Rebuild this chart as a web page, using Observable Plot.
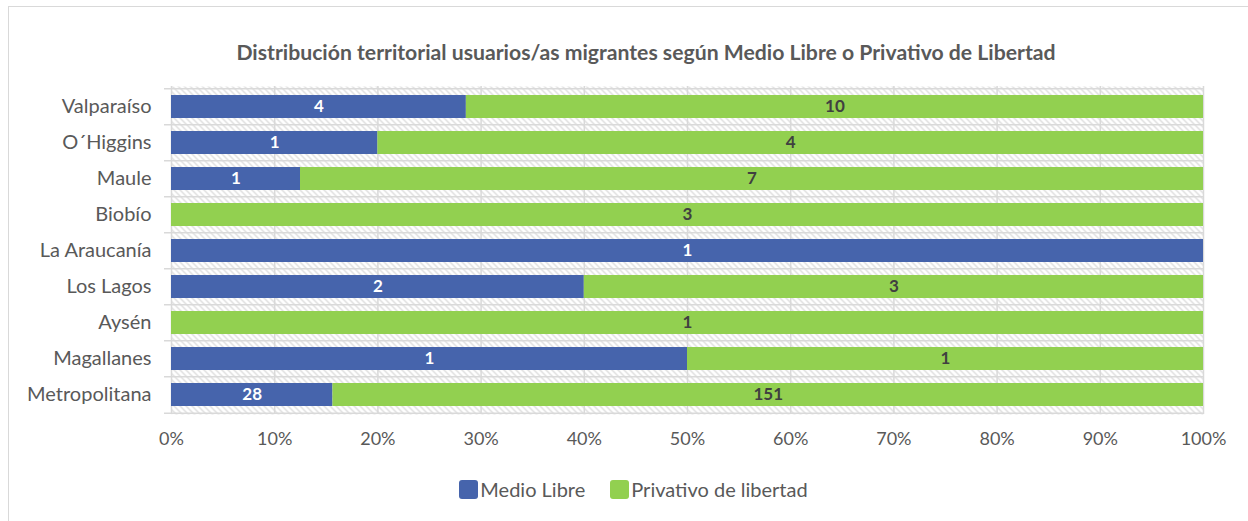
<!DOCTYPE html>
<html><head><meta charset="utf-8">
<script src="https://cdn.jsdelivr.net/npm/d3@7"></script>
<script src="https://cdn.jsdelivr.net/npm/@observablehq/plot@0.6"></script>
<style>
body{margin:0;background:#fff;font-family:Lato,"Open Sans",sans-serif;overflow:hidden;}
#frame{position:absolute;left:8px;top:6px;width:1260px;height:540px;border:1px solid #d9d9d9;box-sizing:border-box;}
#title{position:absolute;left:22px;width:1248px;top:39px;text-align:center;font-weight:bold;font-size:21.2px;color:#595959;line-height:26px;white-space:nowrap;}
#chart{position:absolute;left:0;top:70px;}
#legend{position:absolute;top:478px;left:0;width:1248px;display:flex;justify-content:center;align-items:center;font-size:20px;color:#595959;line-height:22px;padding-left:44px;box-sizing:border-box;}
.sw{display:inline-block;width:19px;height:19px;border-radius:3px;margin-right:2px;}
.item{display:flex;align-items:center;margin-right:25px;}
</style></head>
<body>
<div id="frame"></div>
<div id="title">Distribución territorial usuarios/as migrantes según Medio Libre o Privativo de Libertad</div>
<div id="chart"></div>
<div id="legend"></div>
<script>
const categories = ["Valparaíso","O´Higgins","Maule","Biobío","La Araucanía","Los Lagos","Aysén","Magallanes","Metropolitana"];
const medioLibre = [4,1,1,0,1,2,0,1,28];
const privativo = [10,4,7,3,0,3,1,1,151];
const series = ["Medio Libre","Privativo de libertad"];
const colors = ["#4664ac","#92d050"];
const xTicks = [0,0.1,0.2,0.3,0.4,0.5,0.6,0.7,0.8,0.9,1];

const data = [];
categories.forEach((c,i)=>{
  data.push({region:c, tipo:series[0], value:medioLibre[i]});
  data.push({region:c, tipo:series[1], value:privativo[i]});
});

const W = 1248, H = 390, mT = 16, mB = 46, mL = 171, mR = 45;
const step = (H - mT - mB) / categories.length;
const grid = "#d9d9d9";

const stackOpts = {x:"value", y:"region", z:"tipo", offset:"normalize"};

const chart = Plot.plot({
  width: W, height: H,
  marginTop: mT, marginBottom: mB, marginLeft: mL, marginRight: mR,
  style: {fontFamily: "Lato, 'Open Sans', sans-serif", background: "transparent"},
  x: {domain:[0,1], axis:null},
  y: {domain: categories, paddingInner: 0.37, paddingOuter: 0.185, axis: null},
  color: {domain: series, range: colors},
  marks: [
    Plot.frame({fill: "url(#hatch)", stroke: "none"}),
    Plot.ruleX(xTicks, {stroke: grid, strokeWidth: 1.5}),
    Plot.ruleY(categories, {y: d=>d, dy: -step/2, stroke: grid, strokeWidth: 1.5, insetLeft: -7}),
    Plot.ruleY([categories[categories.length-1]], {y: d=>d, dy: step/2, stroke: grid, strokeWidth: 1.5, insetLeft: -7}),
    Plot.barX(data, Plot.stackX({...stackOpts, fill: "tipo"})),
    Plot.text(data, Plot.filter(d=>d.tipo===series[0] && d.value>0, Plot.stackX({...stackOpts, text: "value", fill: "white", fontWeight: "bold", fontSize: 17}))),
    Plot.text(data, Plot.filter(d=>d.tipo===series[1] && d.value>0, Plot.stackX({...stackOpts, text: "value", fill: "#404040", fontWeight: "bold", fontSize: 17}))),
    Plot.axisX(xTicks, {tickSize: 0, tickPadding: 18, tickFormat: d=>Math.round(d*100)+"%", fontSize: 18, fill: "#595959", label: null}),
    Plot.axisY({tickSize: 0, tickPadding: 20, fontSize: 20, fill: "#595959", label: null})
  ]
});

const svg = d3.select(chart);
const defs = svg.insert("defs", ":first-child");
const pat = defs.append("pattern").attr("id","hatch").attr("patternUnits","userSpaceOnUse").attr("width",6).attr("height",6);
pat.append("rect").attr("width",6).attr("height",6).attr("fill","#ffffff");
pat.append("path").attr("d","M0,0L6,6M-1,5L1,7M5,-1L7,1").attr("stroke","#d4d4d4").attr("stroke-width",1.2);

document.getElementById("chart").appendChild(chart);

const leg = d3.select("#legend");
series.forEach((s,i)=>{
  const it = leg.append("div").attr("class","item");
  it.append("span").attr("class","sw").style("background", colors[i]);
  it.append("span").text(s);
});
</script>
</body></html>
